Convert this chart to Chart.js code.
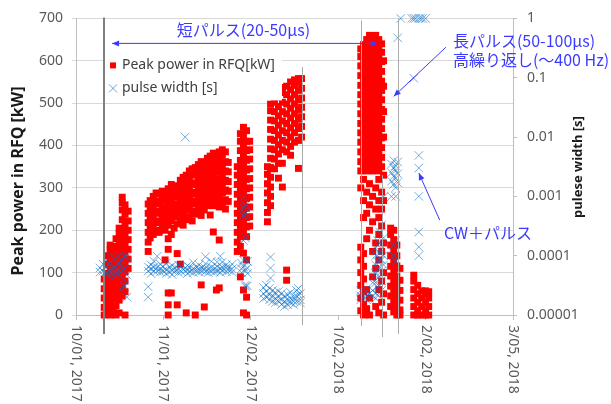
<!DOCTYPE html>
<html>
<head>
<meta charset="utf-8">
<script src="https://cdn.jsdelivr.net/npm/chart.js@4.4.1/dist/chart.umd.min.js"></script>
<style>
  html, body { margin: 0; padding: 0; background: #fff; }
</style>
</head>
<body>
<canvas id="chart" width="611" height="404"></canvas>
<script>
// x values are days counted from 10/01/2017
const startDate = new Date(2017, 9, 1);
const xStep = 31;
const xMax = 155;

const widthTicks = [0.00001, 0.0001, 0.001, 0.01, 0.1, 1];
const widthTickLabels = ['0.00001', '0.0001', '0.001', '0.01', '0.1', '1'];

// Peak power in RFQ [kW] : one list of readings per day
const powerDays = [
  10.0, 11.0, 12.1, 13.2, 14.2, 15.3, 16.4, 17.4, 18.5,
  25.6, 26.3, 27.4, 28.4, 29.5, 30.6, 31.6, 32.7, 33.8, 34.8, 35.9, 37.0, 38.0, 39.1, 40.2,
  41.2, 42.3, 43.4, 44.4, 45.5, 46.6, 47.6, 48.7, 49.8, 50.8, 51.9, 53.0, 54.0,
  57.2, 58.3, 59.4, 60.5, 61.6,
  67.9, 69.0, 70.4, 71.8, 73.2, 74.7, 76.1, 77.5, 78.9, 80.0,
  101.0, 102.0, 103.1, 104.1, 105.2, 106.3, 107.4, 108.4, 109.1,
  111.6, 112.7, 113.8, 114.9,
  119.8, 121.2, 122.6, 124.0, 125.1
];
const powerKW = [
  [0, 18, 40, 62, 85],
  [8, 30, 52, 75, 98, 120, 140],
  [0, 20, 42, 65, 88, 110, 132, 152, 165],
  [10, 32, 55, 78, 100, 122, 145, 162],
  [0, 22, 45, 68, 90, 112, 135, 158, 180],
  [5, 35, 58, 80, 102, 125, 148, 170, 192, 205],
  [45, 68, 90, 112, 135, 158, 180, 202, 225, 248, 265, 278],
  [0, 55, 80, 102, 125, 148, 170, 192, 215, 238, 260],
  [110, 132, 155, 178, 200, 222, 245],

  [150, 172, 195, 218, 240, 262],
  [182, 205, 228, 250, 270],
  [190, 212, 235, 258, 280],
  [200, 222, 245, 268, 288],
  [195, 218, 240, 262, 285],
  [208, 230, 252, 275, 292],
  [130, 200, 222, 245, 268, 285],
  [0, 24, 52, 155, 180, 212, 235, 258, 280, 298],
  [52, 190, 222, 245, 268, 290, 308],
  [205, 232, 255, 278, 300],
  [24, 145, 215, 240, 262, 285, 305],
  [120, 225, 250, 272, 295, 318],
  [212, 238, 260, 282, 305, 325],
  [5, 225, 248, 270, 292, 315, 330],
  [232, 258, 280, 302, 325, 340],
  [222, 245, 268, 290, 312, 335, 345],
  [0, 238, 262, 285, 308, 330, 348],
  [250, 272, 295, 318, 340, 355],
  [71, 235, 258, 282, 305, 328, 350, 362],
  [19, 248, 270, 292, 315, 338, 358],
  [258, 282, 305, 328, 350, 370],
  [236, 268, 292, 315, 338, 360, 375],
  [196, 258, 280, 302, 325, 348, 370, 382],
  [59, 268, 292, 315, 338, 360, 378],
  [64, 177, 255, 278, 300, 322, 345, 368, 385],
  [265, 288, 310, 332, 355, 378, 390],
  [250, 272, 295, 318, 340, 362, 385],
  [268, 292, 315, 338, 360],

  [150, 172, 195, 218, 240, 262, 285, 308, 330, 350],
  [90, 162, 185, 208, 230, 252, 275, 298, 320, 342, 365, 388, 410, 428],
  [5, 59, 146, 195, 218, 240, 262, 285, 308, 330, 352, 375, 398, 420, 443],
  [0, 42, 130, 185, 208, 230, 252, 275, 298, 320, 342, 365, 388, 410, 435],
  [210, 232, 255, 278, 300, 322, 345, 368, 390, 410],

  [220, 242, 265, 288, 310, 332, 350],
  [258, 280, 302, 325, 348, 370, 392, 415, 438, 460, 482, 498],
  [345, 368, 390, 412, 435, 458, 480, 502, 518],
  [323, 358, 380, 402, 425, 448, 470, 492, 515, 530],
  [302, 358, 390, 412, 435, 458, 480, 502, 525, 537],
  [82, 106, 385, 408, 430, 452, 475, 498, 520, 540],
  [377, 398, 420, 442, 465, 488, 510, 532, 550],
  [408, 430, 452, 475, 498, 520, 542, 555],
  [346, 412, 440, 462, 485, 508, 530, 550, 558],
  [420, 445, 468, 490, 512, 535, 558],

  [10, 40, 70, 100, 130, 160, 300, 340, 362, 385, 408, 430, 452, 475, 498, 520, 542, 565, 588, 610, 628],
  [0, 25, 55, 85, 115, 145, 230, 270, 320, 350, 372, 395, 418, 440, 462, 485, 508, 530, 552, 575, 598, 620, 638],
  [15, 60, 180, 240, 290, 340, 362, 385, 408, 430, 452, 475, 498, 520, 542, 565, 588, 610, 632, 650],
  [0, 40, 200, 260, 310, 350, 372, 395, 418, 440, 462, 485, 508, 530, 552, 575, 598, 620, 642, 660],
  [90, 150, 220, 280, 340, 362, 385, 408, 430, 452, 475, 498, 520, 542, 565, 588, 610, 632, 655],
  [20, 110, 170, 250, 300, 350, 372, 395, 418, 440, 462, 485, 508, 530, 552, 575, 598, 620, 642, 660],
  [5, 60, 130, 190, 230, 270, 320, 340, 362, 385, 408, 430, 452, 475, 498, 520, 542, 565, 588, 610, 632, 650],
  [30, 80, 150, 210, 250, 290, 350, 372, 395, 418, 440, 462, 485, 508, 530, 552, 575, 598, 620, 640],
  [0, 50, 100, 170, 270, 330, 420, 480, 540, 600],

  [20, 45, 68, 92, 115, 140, 165, 190, 205],
  [8, 32, 56, 80, 104, 128, 152, 178, 200],
  [0, 20, 44, 68, 92, 116, 140, 165],
  [0, 12, 35, 58, 82, 110],

  [0, 20, 40, 60, 80, 94],
  [0, 10, 30, 50, 70],
  [0, 20, 40, 57],
  [0, 10, 30, 50, 57],
  [0, 20, 40, 55]
];

// pulse width [s] : one list of readings per day
const widthDays = [
  8.5, 9.6, 10.7, 11.7, 12.8, 13.9, 14.9, 16.0, 17.1, 18.1,
  25.6, 26.6, 27.7, 28.8, 29.9, 30.9, 32.0, 33.1, 34.1, 35.2, 36.3, 37.3, 38.7, 39.5, 40.5,
  41.6, 42.7, 43.7, 44.8, 45.9, 46.9, 48.0, 49.1, 50.1, 51.2, 51.9, 53.3, 54.3, 55.4,
  58.7, 59.4, 60.1, 60.8,
  66.5, 67.5, 68.6, 69.0, 69.7, 70.7, 71.8, 72.9, 74.0, 75.0, 76.1, 77.2, 78.2, 78.9, 79.6,
  101.0, 102.0, 103.1, 104.1, 105.2, 106.3, 107.0, 107.7, 108.4, 109.1,
  111.9, 112.7, 113.4, 114.1, 115.2,
  119.1, 119.8, 120.5, 121.6, 122.3, 123.0, 124.0
];
const widthSec = [
  [5.3e-5, 6.2e-5],
  [7.2e-5, 5.5e-5],
  [5.0e-5, 6.5e-5],
  [4.7e-5, 5.6e-5, 7.5e-5],
  [1.0e-4, 6.0e-5, 5.0e-5],
  [9.0e-5, 6.5e-5, 5.2e-5, 4.5e-5],
  [9.6e-5, 7.0e-5, 5.5e-5],
  [8.5e-5, 6.9e-5, 5.3e-5, 4.4e-5],
  [9.6e-5, 6.0e-5, 3.2e-5, 3.0e-5],
  [9.6e-5, 4.7e-5, 2.0e-5],

  [3.0e-5, 2.0e-5, 5.5e-5, 6.5e-5],
  [5.0e-5, 6.0e-5, 7.0e-5],
  [5.5e-5, 6.5e-5, 8.0e-5],
  [9.8e-5, 5.5e-5, 6.3e-5],
  [5.3e-5, 6.0e-5, 7.2e-5],
  [5.5e-5, 6.5e-5],
  [5.0e-5, 5.8e-5, 7.5e-5],
  [5.3e-5, 6.3e-5],
  [4.8e-5, 5.7e-5, 6.8e-5],
  [5.5e-5, 6.2e-5],
  [5.2e-5, 6.0e-5, 7.0e-5],
  [5.4e-5, 6.4e-5],
  [1.0e-2, 5.6e-5, 6.2e-5],
  [5.0e-5, 5.8e-5, 6.8e-5],
  [5.4e-5, 6.2e-5],
  [5.2e-5, 6.0e-5, 7.6e-5],
  [5.5e-5, 6.4e-5],
  [5.3e-5, 5.9e-5, 7.0e-5],
  [5.6e-5, 6.3e-5],
  [9.6e-5, 5.4e-5, 6.1e-5, 7.3e-5],
  [5.2e-5, 5.9e-5],
  [5.5e-5, 6.4e-5, 8.0e-5],
  [5.3e-5, 6.0e-5],
  [5.6e-5, 6.6e-5, 7.8e-5],
  [9.8e-5, 5.2e-5, 6.0e-5],
  [7.8e-5, 5.7e-5, 6.4e-5],
  [5.4e-5, 6.2e-5, 7.0e-5],
  [5.6e-5, 6.3e-5],
  [5.3e-5, 6.0e-5, 7.2e-5],

  [6.0e-5, 7.5e-5, 5.2e-5],
  [9.8e-4, 6.6e-4, 4.8e-4, 1.8e-4, 8.4e-5, 6.5e-5],
  [7.1e-4, 5.2e-4, 2.0e-4, 5.7e-5, 3.2e-5, 3.0e-5],
  [8.0e-5, 6.2e-5, 5.0e-5, 3.1e-5],

  [2.9e-5, 2.3e-5, 1.9e-5],
  [3.2e-5, 2.5e-5, 2.0e-5],
  [2.8e-5, 2.2e-5, 1.8e-5],
  [9.5e-5, 6.2e-5, 4.2e-5],
  [2.6e-5, 2.1e-5, 1.7e-5],
  [2.4e-5, 1.9e-5, 1.6e-5],
  [2.5e-5, 2.0e-5, 1.7e-5],
  [2.3e-5, 1.8e-5, 1.5e-5],
  [2.1e-5, 1.7e-5, 1.4e-5],
  [2.2e-5, 1.8e-5, 1.5e-5],
  [2.4e-5, 1.9e-5, 1.6e-5],
  [2.0e-5, 1.7e-5, 1.5e-5],
  [2.6e-5, 2.1e-5, 1.7e-5],
  [2.8e-5, 2.2e-5],
  [2.3e-5, 1.8e-5, 1.6e-5],

  [2.6e-5, 2.1e-5, 1.8e-5],
  [2.4e-5, 2.0e-5],
  [2.5e-5, 2.1e-5, 1.8e-5],
  [2.3e-5, 1.9e-5],
  [2.6e-5, 2.1e-5, 3.5e-5],
  [1.4e-4, 1.0e-4, 7.0e-5, 5.0e-5, 3.5e-5, 2.3e-5, 1.9e-5],
  [1.8e-4, 1.2e-4, 8.0e-5, 6.0e-5, 4.2e-5, 3.0e-5, 2.2e-5],
  [2.5e-4, 1.6e-4, 1.1e-4, 9.0e-5, 6.5e-5, 4.5e-5, 3.2e-5],
  [3.3e-4, 1.3e-4, 8.5e-5, 5.5e-5, 3.8e-5, 2.6e-5],
  [9.8e-4, 2.0e-4, 1.0e-4, 7.0e-5],

  [3.5e-3, 2.5e-3, 1.8e-3, 1.0e-3],
  [4.0e-3, 3.0e-3, 2.2e-3, 1.6e-3, 1.5e-4, 1.0e-4],
  [3.3e-3, 2.7e-3, 2.0e-3, 1.4e-3, 1.0e-3, 1.8e-4, 8.0e-5],
  [0.47, 3.8e-3, 2.4e-3, 1.7e-3],
  [1.0],

  [1.0],
  [0.098, 1.0],
  [1.0],
  [4.9e-3, 3.0e-3, 1.0e-3, 2.5e-4, 1.4e-4, 1.0e-4, 1.0],
  [1.0],
  [1.0],
  [1.0]
];

// hand-drawn marker lines (day, top kW, bottom kW)
const markerDays = [10.1, 80.2, 101.0, 108.4, 114.3];
const markerTopKW = [702, 585, 695, 330, 700];
const markerBottomKW = [-45, -24, -26, -52, -45];

const RED = '#FF0000';
const BLUE_X = 'rgba(0, 110, 200, 0.55)';
const NOTE = '#3B3BFF';
const FONT = '"Noto Sans", "Liberation Sans", sans-serif';
const JP_FONT = '"Noto Sans CJK JP", "Noto Sans", sans-serif';

function toPoints(days, lists) {
  const pts = [];
  days.forEach((d, i) => lists[i].forEach(v => pts.push({ x: d, y: v })));
  return pts;
}

function dateLabel(v) {
  const d = new Date(startDate.getFullYear(), startDate.getMonth(), startDate.getDate() + v);
  const dd = String(d.getDate()).padStart(2, '0');
  return (d.getMonth() + 1) + '/' + dd + ', ' + d.getFullYear();
}

function arrowHead(ctx, x1, y1, x2, y2) {
  const a = Math.atan2(y2 - y1, x2 - x1), len = 7, w = 3;
  ctx.beginPath();
  ctx.moveTo(x2, y2);
  ctx.lineTo(x2 - len * Math.cos(a) + w * Math.sin(a), y2 - len * Math.sin(a) - w * Math.cos(a));
  ctx.lineTo(x2 - len * Math.cos(a) - w * Math.sin(a), y2 - len * Math.sin(a) + w * Math.cos(a));
  ctx.closePath();
  ctx.fill();
}

function arrow(ctx, x1, y1, x2, y2, both) {
  ctx.beginPath();
  ctx.moveTo(x1, y1);
  ctx.lineTo(x2, y2);
  ctx.stroke();
  arrowHead(ctx, x1, y1, x2, y2);
  if (both) arrowHead(ctx, x2, y2, x1, y1);
}

const notesPlugin = {
  id: 'notes',
  afterDatasetsDraw(chart) {
    const { ctx, scales: { x, yP } } = chart;
    ctx.save();
    markerDays.forEach((d, i) => {
      const px = Math.round(x.getPixelForValue(d)) + (i === 0 ? 0 : 0.5);
      ctx.strokeStyle = i === 0 ? '#808080' : '#ABABAB';
      ctx.lineWidth = i === 0 ? 2 : 1;
      ctx.beginPath();
      ctx.moveTo(px, yP.getPixelForValue(markerTopKW[i]));
      ctx.lineTo(px, yP.getPixelForValue(markerBottomKW[i]));
      ctx.stroke();
    });
    ctx.restore();
  },
  afterDraw(chart) {
    const { ctx, chartArea, scales: { x, yP } } = chart;
    ctx.save();

    // rotated date labels under the axis
    ctx.fillStyle = '#595959';
    ctx.font = '14px ' + FONT;
    ctx.textAlign = 'left';
    ctx.textBaseline = 'middle';
    x.ticks.forEach(t => {
      const px = x.getPixelForValue(t.value);
      ctx.save();
      ctx.translate(px, chartArea.bottom + 10);
      ctx.rotate(Math.PI / 2);
      ctx.fillText(dateLabel(t.value), 0, 0);
      ctx.restore();
    });

    // axis titles
    ctx.fillStyle = '#1A1A1A';
    ctx.textAlign = 'center';
    ctx.save();
    ctx.translate(18, 181);
    ctx.rotate(-Math.PI / 2);
    ctx.font = 'bold 16px ' + FONT;
    ctx.fillText('Peak power in RFQ [kW]', 0, 0);
    ctx.restore();
    ctx.save();
    ctx.translate(578, 167);
    ctx.rotate(-Math.PI / 2);
    ctx.font = 'bold 13px ' + FONT;
    ctx.fillText('pulese width [s]', 0, 0);
    ctx.restore();

    // legend box inside the plot
    const lx = chartArea.left + 29, ly = chartArea.top + 32;
    ctx.fillStyle = '#FFFFFF';
    ctx.fillRect(lx, ly, 177, 50);
    ctx.fillStyle = RED;
    ctx.fillRect(lx + 5, ly + 12, 6, 6);
    ctx.strokeStyle = 'rgba(0, 110, 200, 0.6)';
    ctx.lineWidth = 1;
    ctx.beginPath();
    ctx.moveTo(lx + 4, ly + 34); ctx.lineTo(lx + 12, ly + 42);
    ctx.moveTo(lx + 12, ly + 34); ctx.lineTo(lx + 4, ly + 42);
    ctx.stroke();
    ctx.fillStyle = '#404040';
    ctx.font = '14px ' + FONT;
    ctx.textAlign = 'left';
    ctx.fillText('Peak power in RFQ[kW]', lx + 17, ly + 15);
    ctx.fillText('pulse width [s]', lx + 17, ly + 38);

    // annotations
    ctx.strokeStyle = NOTE;
    ctx.fillStyle = NOTE;
    ctx.lineWidth = 1;
    arrow(ctx, x.getPixelForValue(12.8), yP.getPixelForValue(641),
      x.getPixelForValue(107.0), yP.getPixelForValue(641), true);
    arrow(ctx, x.getPixelForValue(131.2), yP.getPixelForValue(632),
      x.getPixelForValue(112.7), yP.getPixelForValue(516), false);
    arrow(ctx, x.getPixelForValue(129.0), yP.getPixelForValue(224),
      x.getPixelForValue(121.6), yP.getPixelForValue(335), false);

    ctx.font = '16px ' + JP_FONT;
    ctx.textAlign = 'center';
    ctx.fillText('短パルス(20-50μs)', x.getPixelForValue(59.4), yP.getPixelForValue(672));
    ctx.textAlign = 'left';
    ctx.fillText('長パルス(50-100μs)', x.getPixelForValue(133.7), yP.getPixelForValue(648));
    ctx.fillText('高繰り返し(〜400 Hz)', x.getPixelForValue(133.7), yP.getPixelForValue(603));
    ctx.fillText('CW＋パルス', x.getPixelForValue(130.5), yP.getPixelForValue(193));
    ctx.restore();
  }
};

new Chart(document.getElementById('chart'), {
  type: 'scatter',
  data: {
    datasets: [
      {
        label: 'pulse width [s]',
        data: toPoints(widthDays, widthSec),
        yAxisID: 'yW',
        order: 0,
        clip: false,
        pointStyle: 'crossRot',
        pointRadius: 6,
        pointBorderWidth: 1,
        pointBorderColor: BLUE_X,
        pointBackgroundColor: BLUE_X,
        borderColor: BLUE_X
      },
      {
        label: 'Peak power in RFQ[kW]',
        data: toPoints(powerDays, powerKW),
        yAxisID: 'yP',
        order: 1,
        clip: false,
        pointStyle: 'rect',
        pointRadius: 4.9,
        pointBorderWidth: 0,
        pointBackgroundColor: RED,
        pointBorderColor: RED,
        backgroundColor: RED,
        borderColor: RED
      }
    ]
  },
  options: {
    responsive: false,
    animation: false,
    devicePixelRatio: 1,
    events: [],
    layout: { padding: { top: 18, left: 0, right: 0, bottom: 0 } },
    plugins: {
      legend: { display: false },
      tooltip: { enabled: false }
    },
    scales: {
      x: {
        type: 'linear',
        min: 0,
        max: xMax,
        ticks: { stepSize: xStep, display: false },
        grid: { drawOnChartArea: false, tickLength: 5, color: '#BFBFBF' },
        border: { color: '#BFBFBF' },
        afterFit: (s) => { s.height = 89; }
      },
      yP: {
        position: 'left',
        min: 0,
        max: 700,
        ticks: { stepSize: 100, color: '#595959', font: { family: FONT, size: 14 }, padding: 9 },
        grid: { color: '#D9D9D9', tickLength: 4 },
        border: { color: '#BFBFBF' },
        afterFit: (s) => { s.width = 76; }
      },
      yW: {
        type: 'logarithmic',
        position: 'right',
        min: 0.00001,
        max: 1,
        afterBuildTicks: (s) => { s.ticks = widthTicks.map(v => ({ value: v })); },
        ticks: {
          color: '#595959',
          font: { family: FONT, size: 14 },
          padding: 10,
          callback: (v) => widthTickLabels[widthTicks.indexOf(v)]
        },
        grid: { drawOnChartArea: false, tickLength: 4, color: '#BFBFBF' },
        border: { color: '#BFBFBF' },
        afterFit: (s) => { s.width = 98; }
      }
    }
  },
  plugins: [notesPlugin]
});
</script>
</body>
</html>
